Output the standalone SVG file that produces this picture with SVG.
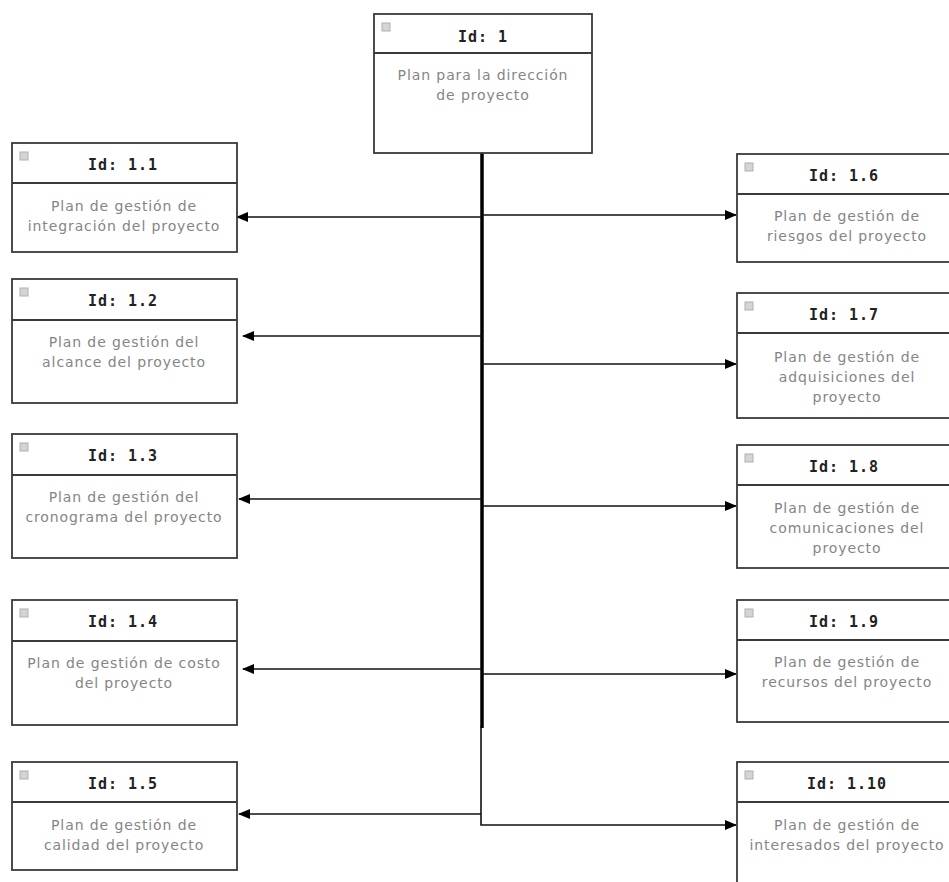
<svg xmlns="http://www.w3.org/2000/svg" width="949" height="882" viewBox="0 0 949 882">
<style>
.box{fill:#fff;stroke:#3a3a3a;stroke-width:1.8}
.div{stroke:#3a3a3a;stroke-width:1.8}
.chk{fill:#d4d4d4;stroke:#b0b0b0;stroke-width:1}
.hd{font-family:"DejaVu Sans Mono",monospace;font-weight:bold;font-size:15px;letter-spacing:1px;fill:#222;text-anchor:middle}
.bd{font-family:"DejaVu Sans",sans-serif;font-size:14px;letter-spacing:0.9px;fill:#858585;text-anchor:middle}
.ln{fill:none;stroke:#111;stroke-width:1.6}
.tr{fill:none;stroke:#000;stroke-width:3.5}
</style>
<defs>
<marker id="ah" markerWidth="12" markerHeight="10" refX="11" refY="5" orient="auto" markerUnits="userSpaceOnUse">
<path d="M0,0 L12,5 L0,10 Z" fill="#000"/>
</marker>
</defs>
<rect width="949" height="882" fill="#fff"/>
<g id="connectors">
<path class="tr" d="M482,153 V728"/>
<path class="ln" d="M481,726 V825 H736" marker-end="url(#ah)"/>
<path class="ln" d="M482,217 H237" marker-end="url(#ah)"/>
<path class="ln" d="M482,336 H243" marker-end="url(#ah)"/>
<path class="ln" d="M482,499 H239" marker-end="url(#ah)"/>
<path class="ln" d="M482,669 H243" marker-end="url(#ah)"/>
<path class="ln" d="M481,814 H239" marker-end="url(#ah)"/>
<path class="ln" d="M482,215 H736" marker-end="url(#ah)"/>
<path class="ln" d="M482,364 H736" marker-end="url(#ah)"/>
<path class="ln" d="M482,506 H736" marker-end="url(#ah)"/>
<path class="ln" d="M482,674 H736" marker-end="url(#ah)"/>
</g>
<g id="n1">
<rect class="box" x="374" y="14" width="218" height="139"/>
<line class="div" x1="374" y1="53" x2="592" y2="53"/>
<rect class="chk" x="382" y="23" width="8" height="8"/>
<text class="hd" x="483" y="42">Id: 1</text>
<text class="bd" x="483" y="80">Plan para la dirección</text>
<text class="bd" x="483" y="100">de proyecto</text>
</g>
<g id="n1_1">
<rect class="box" x="12" y="143" width="225" height="109"/>
<line class="div" x1="12" y1="183" x2="237" y2="183"/>
<rect class="chk" x="20" y="152" width="8" height="8"/>
<text class="hd" x="123" y="170">Id: 1.1</text>
<text class="bd" x="124" y="211">Plan de gestión de</text>
<text class="bd" x="124" y="231">integración del proyecto</text>
</g>
<g id="n1_2">
<rect class="box" x="12" y="279" width="225" height="124"/>
<line class="div" x1="12" y1="320" x2="237" y2="320"/>
<rect class="chk" x="20" y="288" width="8" height="8"/>
<text class="hd" x="123" y="306">Id: 1.2</text>
<text class="bd" x="124" y="347">Plan de gestión del</text>
<text class="bd" x="124" y="367">alcance del proyecto</text>
</g>
<g id="n1_3">
<rect class="box" x="12" y="434" width="225" height="124"/>
<line class="div" x1="12" y1="475" x2="237" y2="475"/>
<rect class="chk" x="20" y="443" width="8" height="8"/>
<text class="hd" x="123" y="461">Id: 1.3</text>
<text class="bd" x="124" y="502">Plan de gestión del</text>
<text class="bd" x="124" y="522">cronograma del proyecto</text>
</g>
<g id="n1_4">
<rect class="box" x="12" y="600" width="225" height="125"/>
<line class="div" x1="12" y1="641" x2="237" y2="641"/>
<rect class="chk" x="20" y="609" width="8" height="8"/>
<text class="hd" x="123" y="627">Id: 1.4</text>
<text class="bd" x="124" y="668">Plan de gestión de costo</text>
<text class="bd" x="124" y="688">del proyecto</text>
</g>
<g id="n1_5">
<rect class="box" x="12" y="762" width="225" height="108"/>
<line class="div" x1="12" y1="802" x2="237" y2="802"/>
<rect class="chk" x="20" y="771" width="8" height="8"/>
<text class="hd" x="123" y="789">Id: 1.5</text>
<text class="bd" x="124" y="830">Plan de gestión de</text>
<text class="bd" x="124" y="850">calidad del proyecto</text>
</g>
<g id="n1_6">
<rect class="box" x="737" y="154" width="222" height="108"/>
<line class="div" x1="737" y1="194" x2="959" y2="194"/>
<rect class="chk" x="745" y="163" width="8" height="8"/>
<text class="hd" x="844" y="181">Id: 1.6</text>
<text class="bd" x="847" y="221">Plan de gestión de</text>
<text class="bd" x="847" y="241">riesgos del proyecto</text>
</g>
<g id="n1_7">
<rect class="box" x="737" y="293" width="222" height="125"/>
<line class="div" x1="737" y1="333" x2="959" y2="333"/>
<rect class="chk" x="745" y="302" width="8" height="8"/>
<text class="hd" x="844" y="320">Id: 1.7</text>
<text class="bd" x="847" y="362">Plan de gestión de</text>
<text class="bd" x="847" y="382">adquisiciones del</text>
<text class="bd" x="847" y="402">proyecto</text>
</g>
<g id="n1_8">
<rect class="box" x="737" y="445" width="222" height="123"/>
<line class="div" x1="737" y1="485" x2="959" y2="485"/>
<rect class="chk" x="745" y="454" width="8" height="8"/>
<text class="hd" x="844" y="472">Id: 1.8</text>
<text class="bd" x="847" y="513">Plan de gestión de</text>
<text class="bd" x="847" y="533">comunicaciones del</text>
<text class="bd" x="847" y="553">proyecto</text>
</g>
<g id="n1_9">
<rect class="box" x="737" y="600" width="222" height="122"/>
<line class="div" x1="737" y1="640" x2="959" y2="640"/>
<rect class="chk" x="745" y="609" width="8" height="8"/>
<text class="hd" x="844" y="627">Id: 1.9</text>
<text class="bd" x="847" y="667">Plan de gestión de</text>
<text class="bd" x="847" y="687">recursos del proyecto</text>
</g>
<g id="n1_10">
<rect class="box" x="737" y="762" width="222" height="130"/>
<line class="div" x1="737" y1="802" x2="959" y2="802"/>
<rect class="chk" x="745" y="771" width="8" height="8"/>
<text class="hd" x="847" y="789">Id: 1.10</text>
<text class="bd" x="847" y="830">Plan de gestión de</text>
<text class="bd" x="847" y="850">interesados del proyecto</text>
</g>
</svg>
